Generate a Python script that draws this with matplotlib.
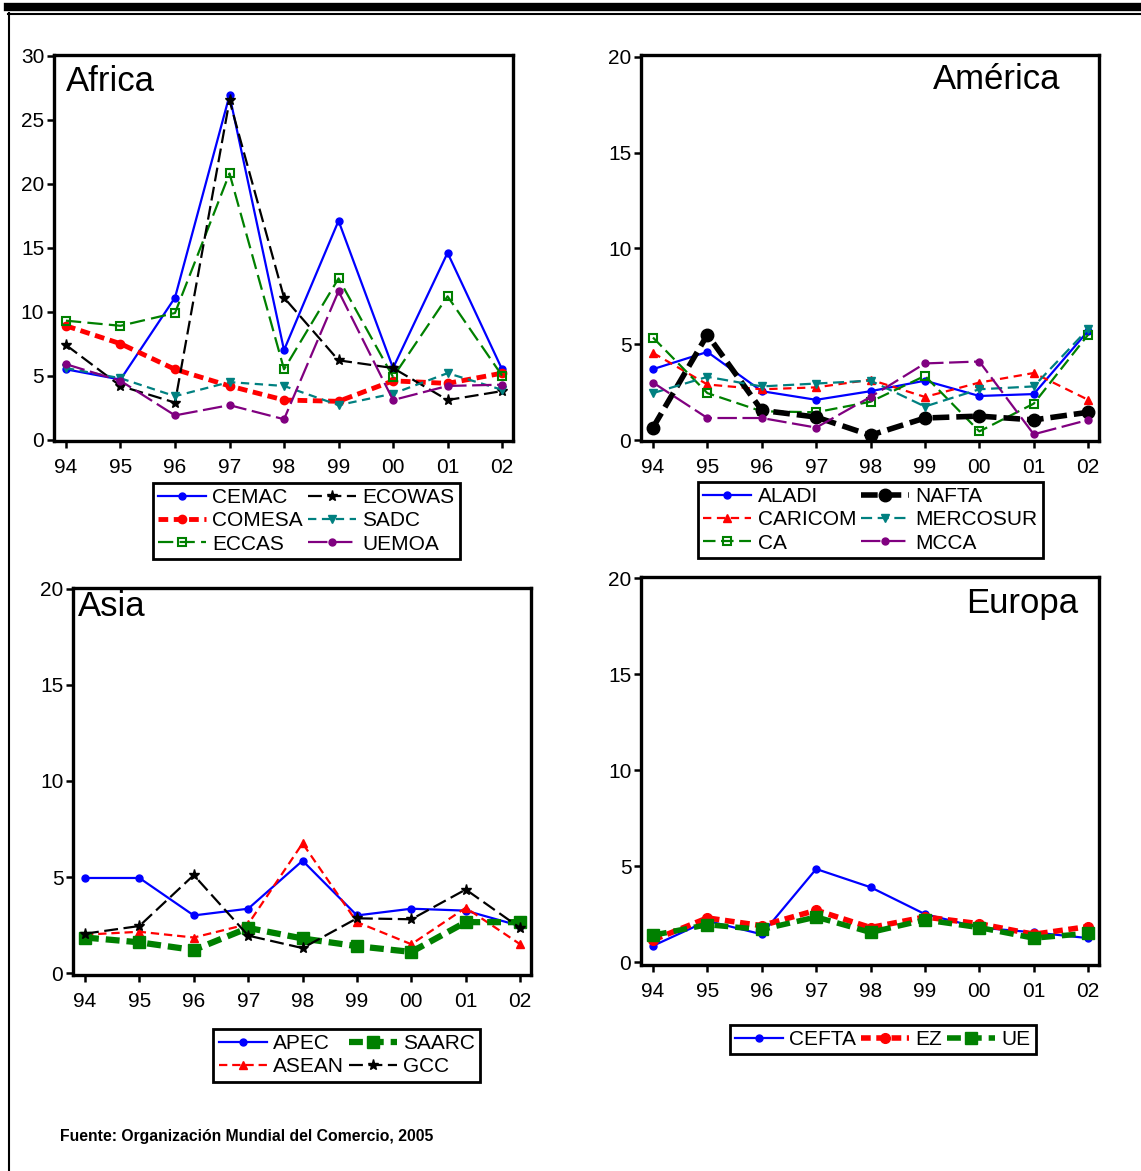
import matplotlib
matplotlib.use('Agg')
import matplotlib.pyplot as plt
from matplotlib.lines import Line2D

plt.rcParams['font.family'] = ['Liberation Sans', 'DejaVu Sans']
plt.rcParams['lines.scale_dashes'] = False

years = ['94', '95', '96', '97', '98', '99', '00', '01', '02']

# Africa
cemac = [5.5, 4.7, 11.1, 26.9, 7.0, 17.1, 5.6, 14.6, 5.5]
ecowas = [7.4, 4.2, 2.9, 26.5, 11.1, 6.2, 5.6, 3.1, 3.8]
comesa = [8.9, 7.5, 5.5, 4.2, 3.1, 3.0, 4.6, 4.4, 5.2]
sadc = [5.6, 4.8, 3.4, 4.5, 4.2, 2.7, 3.6, 5.2, 3.9]
eccas = [9.3, 8.9, 9.9, 20.8, 5.5, 12.6, 4.9, 11.2, 5.0]
uemoa = [5.9, 4.6, 1.9, 2.7, 1.6, 11.6, 3.1, 4.2, 4.3]

# America
aladi = [3.7, 4.6, 2.55, 2.1, 2.55, 3.1, 2.3, 2.4, 5.7]
nafta = [0.65, 5.5, 1.55, 1.2, 0.25, 1.15, 1.25, 1.05, 1.45]
caricom = [4.55, 2.9, 2.65, 2.75, 3.15, 2.25, 3.0, 3.5, 2.1]
mercosur = [2.45, 3.3, 2.8, 2.95, 3.1, 1.75, 2.65, 2.8, 5.8]
ca = [5.35, 2.45, 1.5, 1.45, 2.0, 3.35, 0.45, 1.9, 5.5]
mcca = [3.0, 1.15, 1.15, 0.65, 2.25, 4.0, 4.1, 0.3, 1.05]

# Asia
apec = [4.95, 4.95, 3.0, 3.35, 5.85, 3.0, 3.35, 3.25, 2.45]
saarc = [1.85, 1.6, 1.2, 2.35, 1.8, 1.4, 1.1, 2.65, 2.65]
asean = [2.0, 2.15, 1.85, 2.55, 6.75, 2.65, 1.5, 3.4, 1.5]
gcc = [2.05, 2.45, 5.1, 1.95, 1.3, 2.85, 2.8, 4.35, 2.35]

# Europa
cefta = [0.85, 2.15, 1.45, 4.85, 3.9, 2.5, 1.8, 1.55, 1.25]
ez = [1.15, 2.3, 1.9, 2.7, 1.8, 2.35, 2.0, 1.45, 1.85]
ue = [1.4, 1.95, 1.7, 2.35, 1.55, 2.2, 1.8, 1.25, 1.5]

BLUE = '#0000ff'
RED = '#ff0000'
GREEN = '#008000'
TEAL = '#008080'
PURPLE = '#800080'
BLACK = '#000000'

x = list(range(len(years)))

fig = plt.figure(figsize=(11.41, 11.71), dpi=100)


def style_axes(ax, ymax, step, ybottom=-0.1):
    ax.set_xlim(-0.22, 8.2)
    ax.set_ylim(ybottom, ymax)
    ax.set_xticks(x)
    ax.set_xticklabels(years)
    ax.set_yticks(list(range(0, int(ymax) + 1, step)))
    for s in ax.spines.values():
        s.set_linewidth(2.4)
    ax.tick_params(axis='both', labelsize=15, length=5, width=1.8,
                   direction='out', top=False, right=False)
    ax.tick_params(axis='x', pad=7)
    ax.tick_params(axis='y', pad=2)


def add_legend(ax, ncol, cx, top):
    leg = ax.legend(loc='upper center', bbox_to_anchor=(cx, top),
                    bbox_transform=fig.transFigure, ncol=ncol, fontsize=15,
                    frameon=True, fancybox=False, framealpha=1,
                    edgecolor='black', handlelength=2.3, handletextpad=0.3,
                    columnspacing=0.25, labelspacing=0.2, borderpad=0.25,
                    borderaxespad=0)
    leg.get_frame().set_linewidth(2)
    return leg


# ---- Africa ----
ax1 = fig.add_axes([0.0473, 0.6234, 0.4023, 0.3296])
ax1.plot(x, cemac, color=BLUE, lw=1.6, marker='o', ms=5, label='CEMAC')
ax1.plot(x, comesa, color=RED, lw=3.5, dashes=(7, 4), marker='o', ms=6, label='COMESA')
ax1.plot(x, eccas, color=GREEN, lw=1.6, dashes=(11, 4.5), marker='s', ms=6,
         mfc='none', mew=1.5, label='ECCAS')
ax1.plot(x, ecowas, color=BLACK, lw=1.6, dashes=(10, 4), marker='*', ms=8, label='ECOWAS')
ax1.plot(x, sadc, color=TEAL, lw=1.6, dashes=(6, 4), marker='v', ms=6, label='SADC')
ax1.plot(x, uemoa, color=PURPLE, lw=1.6, dashes=(14, 4), marker='o', ms=5, label='UEMOA')
style_axes(ax1, 30.05, 5)
ax1.text(0.025, 0.975, 'Africa', transform=ax1.transAxes, fontsize=25,
         ha='left', va='top')
add_legend(ax1, 2, 0.2686, 0.5875)

# ---- America ----
ax2 = fig.add_axes([0.5618, 0.6234, 0.4014, 0.3296])
ax2.plot(x, aladi, color=BLUE, lw=1.6, marker='o', ms=5, label='ALADI')
ax2.plot(x, caricom, color=RED, lw=1.6, dashes=(6, 4), marker='^', ms=6, label='CARICOM')
ax2.plot(x, ca, color=GREEN, lw=1.6, dashes=(9, 4), marker='s', ms=6,
         mfc='none', mew=1.5, label='CA')
ax2.plot(x, nafta, color=BLACK, lw=4, dashes=(12, 5), marker='o', ms=9, label='NAFTA')
ax2.plot(x, mercosur, color=TEAL, lw=1.6, dashes=(8, 4), marker='v', ms=6, label='MERCOSUR')
ax2.plot(x, mcca, color=PURPLE, lw=1.6, dashes=(14, 4), marker='o', ms=5, label='MCCA')
style_axes(ax2, 20.1, 5, -0.05)
ax2.text(0.915, 0.98, 'América', transform=ax2.transAxes, fontsize=25,
         ha='right', va='top')
add_legend(ax2, 2, 0.763, 0.5884)

# ---- Asia ----
ax3 = fig.add_axes([0.064, 0.1674, 0.4014, 0.3305])
ax3.plot(x, apec, color=BLUE, lw=1.6, marker='o', ms=5, label='APEC')
ax3.plot(x, asean, color=RED, lw=1.6, dashes=(6, 3.5), marker='^', ms=6, label='ASEAN')
ax3.plot(x, saarc, color=GREEN, lw=4.5, dashes=(10, 5), marker='s', ms=8, label='SAARC')
ax3.plot(x, gcc, color=BLACK, lw=1.6, dashes=(10, 4), marker='*', ms=8, label='GCC')
style_axes(ax3, 20.05, 5)
ax3.text(0.01, 0.995, 'Asia', transform=ax3.transAxes, fontsize=25,
         ha='left', va='top')
add_legend(ax3, 2, 0.304, 0.1213)

# ---- Europa ----
ax4 = fig.add_axes([0.5618, 0.1759, 0.4014, 0.3313])
ax4.plot(x, cefta, color=BLUE, lw=1.6, marker='o', ms=5, label='CEFTA')
ax4.plot(x, ez, color=RED, lw=4, dashes=(7, 4), marker='o', ms=7, label='EZ')
ax4.plot(x, ue, color=GREEN, lw=4, dashes=(10, 5), marker='s', ms=8, label='UE')
style_axes(ax4, 20.05, 5, -0.15)
ax4.text(0.955, 0.975, 'Europa', transform=ax4.transAxes, fontsize=25,
         ha='right', va='top')
add_legend(ax4, 3, 0.7735, 0.1247)

# page frame lines
fig.add_artist(Line2D([8 / 1141, 1], [1 - 7 / 1171, 1 - 7 / 1171],
                      color='black', lw=6, transform=fig.transFigure))
fig.add_artist(Line2D([8 / 1141, 1], [1 - 13.5 / 1171, 1 - 13.5 / 1171],
                      color='black', lw=1.5, transform=fig.transFigure))
fig.add_artist(Line2D([8.5 / 1141, 8.5 / 1141], [0, 1 - 13 / 1171],
                      color='black', lw=1.5, transform=fig.transFigure))

fig.text(60 / 1141, 1 - 1137 / 1171, 'Fuente: Organización Mundial del Comercio, 2005',
         fontsize=11.3, fontweight='bold', ha='left', va='center')

fig.savefig('out.png', dpi=100)
